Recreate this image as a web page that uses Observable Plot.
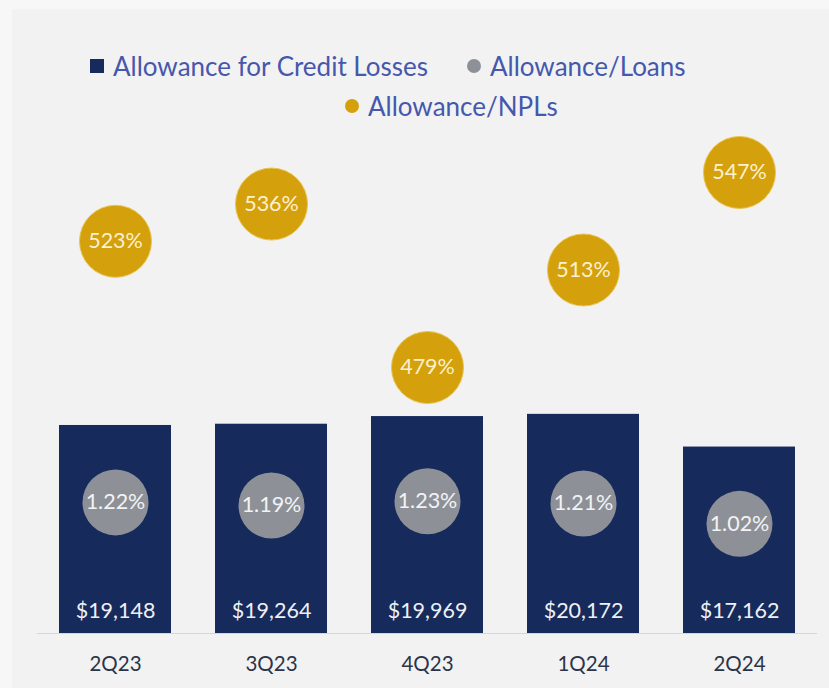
<!DOCTYPE html>
<html>
<head>
<meta charset="utf-8">
<script src="https://cdn.jsdelivr.net/npm/d3@7"></script>
<script src="https://cdn.jsdelivr.net/npm/@observablehq/plot@0.6"></script>
<style>
  html, body { margin: 0; padding: 0; background: #f7f7f7; }
  #wrap { position: relative; width: 829px; height: 688px; overflow: hidden; font-family: Lato, "Open Sans", sans-serif; }
  #panel { position: absolute; left: 12px; top: 9px; width: 817px; height: 679px; background: #f2f2f2; }
  .leg { position: absolute; display: flex; align-items: center; font-size: 26px; color: #4657ad; white-space: nowrap; line-height: 1; }
  .sw { display: inline-block; margin-right: 9px; }
  #chart { position: absolute; left: 0; top: 130px; width: 829px; height: 558px; }
  #chart svg { position: absolute; left: 0; top: 0; background: transparent; overflow: visible; }
</style>
</head>
<body>
<div id="wrap">
  <div id="panel"></div>
  <div id="legend"></div>
  <div id="chart"></div>
</div>
<script>
// ---- data ----
const quarters = ["2Q23", "3Q23", "4Q23", "1Q24", "2Q24"];
const allowance = [19148, 19264, 19969, 20172, 17162];      // $ millions
const allowanceLoans = [1.22, 1.19, 1.23, 1.21, 1.02];     // %
const allowanceNPLs = [523, 536, 479, 513, 547];           // %
const seriesNames = ["Allowance for Credit Losses", "Allowance/Loans", "Allowance/NPLs"];

const colors = { navy: "#172a5c", grey: "#8d9197", gold: "#d4a00c" };

const rows = quarters.map((q, i) => ({
  q, amt: allowance[i], loans: allowanceLoans[i], npl: allowanceNPLs[i]
}));

// ---- legend ----
const legend = document.getElementById("legend");
const legItems = [
  { name: seriesNames[0], color: colors.navy, shape: "square", left: 90, top: 53 },
  { name: seriesNames[1], color: colors.grey, shape: "circle", left: 467, top: 53 },
  { name: seriesNames[2], color: colors.gold, shape: "circle", left: 345, top: 93 }
];
for (const it of legItems) {
  const d = document.createElement("div");
  d.className = "leg";
  d.style.left = it.left + "px";
  d.style.top = it.top + "px";
  const s = document.createElement("span");
  s.className = "sw";
  s.style.width = "14px"; s.style.height = "14px";
  s.style.background = it.color;
  if (it.shape === "circle") s.style.borderRadius = "50%";
  d.appendChild(s);
  d.appendChild(document.createTextNode(it.name));
  legend.appendChild(d);
}

// ---- shared layout ----
const W = 829, H = 558;
const base = {
  width: W, height: H,
  marginLeft: 37, marginRight: 12, marginTop: 0, marginBottom: 55,
  style: { background: "transparent", fontFamily: "Lato, 'Open Sans', sans-serif" }
};
const xScale = { type: "band", domain: quarters, paddingInner: 0.28, paddingOuter: 0.14 };

// Bars
const barsPlot = Plot.plot({
  ...base,
  x: { ...xScale, label: null },
  y: { domain: [0, 46300], axis: null },
  marks: [
    Plot.ruleY([0], { stroke: "#d6d6d6", strokeWidth: 1.2 }),
    Plot.barY(rows, { x: "q", y: "amt", fill: colors.navy }),
    Plot.text(rows, { x: "q", y: 0, dy: -22, text: d => "$" + d3.format(",")(d.amt),
      fill: "#eef0f5", fontSize: 21.5 }),
    Plot.axisX({ tickSize: 0, tickPadding: 23, fontSize: 20.5, color: "#2e3447", label: null })
  ]
});

// Allowance / Loans circles
const loansPlot = Plot.plot({
  ...base,
  x: { ...xScale, axis: null },
  y: { domain: [0, 4.68], axis: null },
  marks: [
    Plot.dot(rows, { x: "q", y: "loans", r: 33, fill: colors.grey }),
    Plot.text(rows, { x: "q", y: "loans", text: d => d.loans.toFixed(2) + "%",
      fill: "#f2f3f5", fontSize: 21.5 })
  ]
});

// Allowance / NPLs circles
const nplPlot = Plot.plot({
  ...base,
  x: { ...xScale, axis: null },
  y: { domain: [386.25, 561.64], axis: null },
  marks: [
    Plot.dot(rows, { x: "q", y: "npl", r: 36, fill: colors.gold, stroke: "#e9c455", strokeWidth: 1 }),
    Plot.text(rows, { x: "q", y: "npl", text: d => d.npl + "%",
      fill: "#fbf0cf", fontSize: 21.5 })
  ]
});

const chart = document.getElementById("chart");
chart.appendChild(barsPlot);
chart.appendChild(loansPlot);
chart.appendChild(nplPlot);
</script>
</body>
</html>
